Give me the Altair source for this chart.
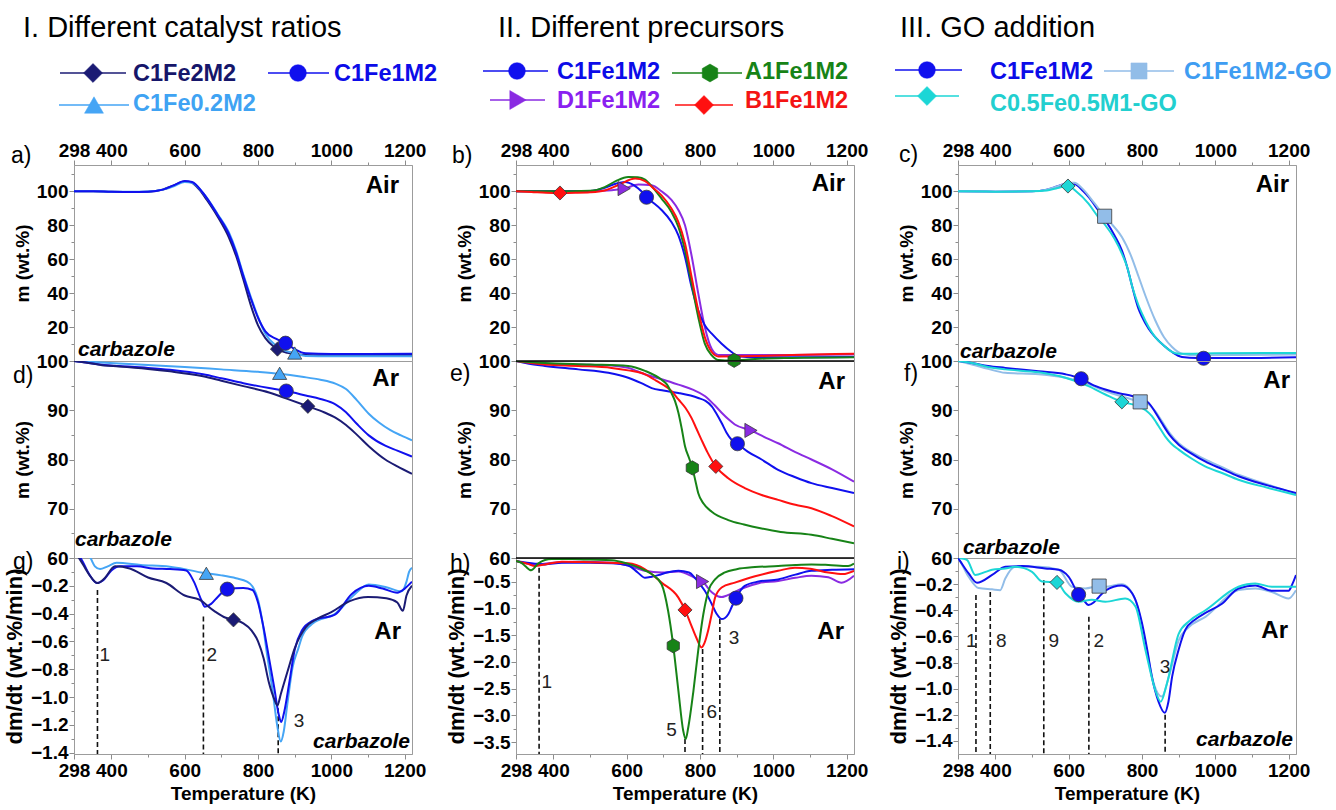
import json
import altair as alt
import pandas as pd

FONT = "Liberation Sans"
HEX = "M0,-1L0.866,-0.5L0.866,0.5L0,1L-0.866,0.5L-0.866,-0.5Z"

# ---------------- series, colours, shapes
SERIES = ["C1Fe2M2", "C1Fe1M2", "C1Fe0.2M2", "A1Fe1M2", "D1Fe1M2", "B1Fe1M2",
          "C1Fe1M2-GO", "C0.5Fe0.5M1-GO"]
LINE_COLORS = ["#1b1b74", "#1010ee", "#45a5f5", "#178317", "#8a2be2", "#ff1010",
               "#92bde8", "#1cd6d6"]
TEXT_COLORS = ["#16166a", "#0c0ce8", "#3fa3f3", "#178317", "#8a20f0", "#f41414",
               "#3f9df2", "#22cfcf"]
SHAPES = ["diamond", "circle", "triangle-up", HEX, "triangle-right", "diamond",
          "square", "diamond"]

# ---------------- axes
T_DOMAIN = [298, 1220]
X_MAJOR = [298, 400, 600, 800, 1000, 1200]
X_MINOR = [500, 700, 900, 1100]
Y_AIR_MAJOR = [20, 40, 60, 80, 100]
Y_AIR_MINOR = [10, 30, 50, 70, 90, 110]
Y_AR_MAJOR = [60, 70, 80, 90, 100]
Y_AR_MINOR = [65, 75, 85, 95]
Y_DTG_MAJOR = [-1.4, -1.2, -1.0, -0.8, -0.6, -0.4, -0.2]
Y_DTG_MINOR = [-1.3, -1.1, -0.9, -0.7, -0.5, -0.3, -0.1]
Y_DTGH_MAJOR = [-3.5, -3.0, -2.5, -2.0, -1.5, -1.0, -0.5]
Y_DTGH_MINOR = [-3.25, -2.75, -2.25, -1.75, -1.25, -0.75, -0.25]
YDOM_AIR = [0, 115.5]
YDOM_AR = [60, 100]
YDOM_G = [-1.41, 0.0]
YDOM_H = [-3.72, -0.06]
YDOM_I = [-1.5, 0.0]

# ---------------- panel a (Air, catalyst ratios)
A_C1FE2M2_T = [298, 350, 400, 450, 500, 540, 570, 600, 615, 640, 660, 690, 720, 740, 760, 780, 800, 820, 840, 853, 880, 910, 950, 1000, 1100, 1220]
A_C1FE2M2_V = [100, 100, 99.7, 99.6, 99.8, 101, 103.5, 105.8, 105.5, 101, 95, 85, 73, 62, 48, 33, 21, 13.5, 9, 7, 4.8, 3.8, 3.4, 3.4, 3.5, 3.6]
A_C1FE1M2_T = [298, 350, 400, 450, 500, 540, 570, 600, 620, 650, 690, 720, 740, 760, 780, 800, 820, 850, 875, 900, 930, 1000, 1100, 1220]
A_C1FE1M2_V = [100, 100, 99.7, 99.6, 99.8, 101, 103.5, 106, 105.5, 99, 86, 75, 64, 50, 37, 25.5, 17.5, 13, 10.5, 7, 4.5, 4.1, 4.1, 4.2]
A_C1FE02M2_T = [298, 350, 400, 450, 500, 540, 570, 600, 620, 650, 690, 720, 740, 760, 780, 800, 820, 850, 875, 900, 930, 1000, 1100, 1220]
A_C1FE02M2_V = [100, 100, 99.8, 99.7, 99.9, 101, 103, 105.5, 105, 99, 86.5, 76, 65, 51, 38, 26, 16, 9, 6, 4.7, 3, 2.8, 2.8, 2.8]
A_MARK_T = [853, 875, 900]
A_MARK_V = [7, 10.5, 4.7]

# ---------------- panel d (Ar TGA, catalyst ratios)
D_C1FE2M2_T = [298, 330, 380, 420, 500, 560, 650, 700, 760, 830, 880, 936, 980, 1011, 1040, 1070, 1102, 1147, 1180, 1220]
D_C1FE2M2_V = [100, 99.7, 99.1, 98.9, 98.4, 97.9, 96.9, 96.0, 94.9, 93.6, 92.3, 90.8, 89.6, 88.5, 87.0, 85.0, 82.7, 80.0, 78.6, 77.1]
D_C1FE1M2_T = [298, 330, 380, 420, 500, 560, 650, 700, 760, 830, 877, 930, 970, 1011, 1040, 1070, 1102, 1147, 1180, 1220]
D_C1FE1M2_V = [100, 99.7, 99.2, 99.0, 98.6, 98.2, 97.3, 96.5, 95.5, 94.5, 93.9, 93.0, 92.3, 91.2, 89.6, 87.2, 84.9, 82.8, 81.8, 80.6]
D_C1FE02M2_T = [298, 350, 420, 500, 600, 700, 800, 859, 920, 970, 1011, 1040, 1070, 1102, 1130, 1160, 1190, 1220]
D_C1FE02M2_V = [100, 99.8, 99.5, 99.2, 98.8, 98.3, 97.8, 97.4, 96.8, 96.2, 95.4, 94.3, 92.0, 89.3, 87.5, 86.0, 84.9, 83.9]
D_MARK_T = [936, 877, 859]
D_MARK_V = [90.8, 93.9, 97.5]

# ---------------- panel g (Ar DTG, catalyst ratios)
G_C1FE2M2_T = [298, 314, 330, 345, 362, 380, 410, 450, 500, 550, 600, 640, 680, 712, 733, 760, 782, 800, 815, 830, 845, 853, 862, 880, 900, 930, 960, 1000, 1050, 1100, 1150, 1180, 1195, 1205, 1220]
G_C1FE2M2_V = [0.05, -0.01, -0.08, -0.14, -0.18, -0.15, -0.06, -0.075, -0.14, -0.18, -0.27, -0.3, -0.38, -0.43, -0.445, -0.47, -0.52, -0.6, -0.72, -0.9, -1.02, -1.06, -0.98, -0.82, -0.65, -0.5, -0.44, -0.39, -0.31, -0.28, -0.29, -0.32, -0.38, -0.27, -0.2]
G_C1FE1M2_T = [298, 316, 340, 360, 378, 400, 423, 470, 513, 560, 604, 625, 645, 655, 672, 690, 716, 760, 785, 800, 815, 830, 844, 856, 863, 872, 885, 900, 920, 950, 1011, 1055, 1102, 1140, 1180, 1200, 1220]
G_C1FE1M2_V = [0.05, 0.0, -0.12, -0.18, -0.16, -0.09, -0.06, -0.06, -0.075, -0.08, -0.09, -0.17, -0.3, -0.35, -0.33, -0.28, -0.224, -0.215, -0.23, -0.32, -0.5, -0.72, -0.93, -1.12, -1.18, -1.1, -0.9, -0.66, -0.52, -0.45, -0.405, -0.26, -0.2, -0.22, -0.25, -0.22, -0.17]
G_C1FE02M2_T = [298, 330, 343, 355, 369, 390, 414, 480, 559, 600, 649, 700, 740, 770, 785, 800, 812, 825, 839, 852, 862, 870, 880, 894, 910, 921, 950, 1011, 1060, 1102, 1150, 1192, 1205, 1212, 1220]
G_C1FE02M2_V = [0.1, 0.05, 0.0, -0.06, -0.08, -0.06, -0.035, -0.05, -0.063, -0.08, -0.106, -0.125, -0.146, -0.17, -0.205, -0.3, -0.46, -0.7, -0.94, -1.2, -1.32, -1.25, -1.05, -0.79, -0.65, -0.56, -0.47, -0.4, -0.27, -0.19, -0.21, -0.24, -0.17, -0.1, -0.07]
G_MARK_T = [733, 716, 659]
G_MARK_V = [-0.445, -0.224, -0.11]
G_DASH_T = [362, 651, 855]
G_DASH_TOP = [-0.23, -0.42, -1.08]
G_LAB = ["1", "2", "3"]
G_LAB_T = [382, 674, 912]
G_LAB_V = [-0.695, -0.695, -1.175]

# ---------------- panel b (Air, precursors)
B_C1FE1M2_T = [298, 400, 500, 540, 570, 595, 620, 640, 654, 668, 695, 722, 741, 759, 777, 795, 813, 832, 859, 886, 904, 950, 1050, 1220]
B_C1FE1M2_V = [100, 100, 100.2, 102, 104.5, 105.5, 103.5, 100, 96.5, 94, 89, 81.9, 74, 61.3, 43.6, 29.9, 21, 16.1, 10.2, 5.3, 2.8, 2.2, 2.2, 2.4]
B_A1FE1M2_T = [298, 400, 500, 540, 570, 604, 630, 650, 672, 695, 722, 741, 759, 777, 795, 813, 832, 850, 886, 950, 1050, 1220]
B_A1FE1M2_V = [100, 100, 100.3, 102.5, 106, 108.5, 108.3, 106.9, 102, 95.7, 87.8, 79, 65.2, 45.6, 26, 10.2, 3.3, 0.6, 0.3, 1.2, 1.8, 2.2]
B_D1FE1M2_T = [298, 400, 500, 559, 593, 632, 668, 695, 722, 741, 759, 777, 795, 813, 832, 850, 900, 1050, 1220]
B_D1FE1M2_V = [100, 100, 100.2, 100.6, 101.6, 104, 103.5, 100, 95, 89, 80, 62, 40, 20, 7, 3.6, 3.5, 3.6, 3.8]
B_B1FE1M2_T = [298, 340, 380, 418, 460, 500, 540, 580, 623, 650, 672, 695, 722, 741, 759, 777, 795, 813, 832, 850, 922, 1050, 1220]
B_B1FE1M2_V = [100, 99.6, 99.1, 99, 99.1, 99.4, 100.5, 104, 107.5, 106, 102, 97.6, 89.8, 81.9, 69.2, 49.5, 29.9, 14.1, 5.3, 2.7, 2.8, 3.5, 4.3]
B_MARK_T = [654, 893, 593, 418]
B_MARK_V = [96.5, 0.4, 101.6, 99]

# ---------------- panel e (Ar TGA, precursors)
E_C1FE1M2_T = [298, 330, 377, 468, 550, 604, 640, 668, 700, 741, 795, 815, 832, 845, 859, 872, 886, 902, 930, 968, 1013, 1060, 1104, 1160, 1220]
E_C1FE1M2_V = [100, 99.5, 99, 98.3, 97.6, 96.6, 95.5, 94.5, 94, 93.5, 92.5, 91.9, 90.8, 89.3, 87.4, 85.5, 84, 83.2, 81.6, 80, 77.9, 76.4, 75.2, 74.2, 73.2]
E_A1FE1M2_T = [298, 377, 500, 604, 650, 695, 710, 722, 732, 741, 750, 759, 770, 779, 787, 795, 810, 832, 877, 920, 968, 1020, 1104, 1160, 1220]
E_A1FE1M2_V = [100, 99.6, 99.3, 99, 98, 96.2, 95.2, 93.5, 91.8, 89.5, 86.3, 82.7, 80.3, 78.3, 75.8, 73.2, 71, 69.4, 67.7, 66.8, 66, 65.3, 64.7, 63.9, 63]
E_D1FE1M2_T = [298, 377, 468, 559, 604, 650, 700, 741, 780, 813, 840, 859, 880, 895, 939, 980, 1013, 1060, 1104, 1160, 1220]
E_D1FE1M2_V = [100, 99.5, 99.3, 99.1, 98.6, 97.3, 96.2, 95.2, 94.2, 92.9, 91, 89.5, 88, 87.1, 85.9, 84.4, 83.3, 81.5, 80, 78, 75.5]
E_B1FE1M2_T = [298, 377, 468, 559, 604, 650, 680, 722, 741, 760, 777, 790, 804, 820, 843, 877, 922, 968, 1013, 1060, 1104, 1160, 1220]
E_B1FE1M2_V = [100, 99.3, 99, 98.6, 98.1, 97.3, 96.0, 93.9, 92.2, 90.5, 88.4, 86.3, 84, 81.5, 78.6, 76.2, 74.2, 72.8, 71.8, 70.8, 70.1, 68.5, 66.4]
E_MARK_T = [902, 779, 939, 843]
E_MARK_V = [83.2, 78.3, 85.9, 78.6]

# ---------------- panel h (Ar DTG, precursors)
H_C1FE1M2_T = [298, 350, 377, 423, 500, 559, 604, 630, 650, 668, 686, 710, 741, 770, 786, 800, 813, 832, 845, 859, 868, 877, 886, 898, 922, 960, 1013, 1060, 1104, 1160, 1220]
H_C1FE1M2_V = [-0.115, -0.165, -0.18, -0.15, -0.15, -0.16, -0.2, -0.33, -0.43, -0.41, -0.38, -0.33, -0.3, -0.33, -0.43, -0.55, -0.67, -0.92, -1.1, -1.2, -1.18, -1.11, -0.98, -0.81, -0.58, -0.5, -0.46, -0.37, -0.3, -0.28, -0.27]
H_A1FE1M2_T = [298, 315, 323, 339, 359, 395, 450, 500, 559, 600, 640, 668, 695, 713, 727, 741, 754, 761, 768, 782, 795, 809, 823, 841, 868, 900, 950, 1013, 1060, 1104, 1150, 1204, 1220]
H_A1FE1M2_V = [-0.115, -0.16, -0.21, -0.29, -0.16, -0.08, -0.08, -0.09, -0.1, -0.16, -0.26, -0.36, -0.55, -1.05, -1.7, -2.54, -3.28, -3.44, -3.22, -2.54, -1.79, -1.11, -0.67, -0.46, -0.33, -0.27, -0.23, -0.21, -0.19, -0.18, -0.19, -0.21, -0.165]
H_D1FE1M2_T = [298, 350, 400, 468, 559, 604, 650, 695, 741, 786, 807, 832, 850, 859, 870, 886, 922, 960, 1013, 1060, 1104, 1150, 1186, 1220]
H_D1FE1M2_V = [-0.115, -0.18, -0.15, -0.13, -0.15, -0.2, -0.3, -0.33, -0.31, -0.43, -0.5, -0.7, -0.78, -0.79, -0.77, -0.72, -0.61, -0.53, -0.49, -0.43, -0.39, -0.42, -0.52, -0.39]
H_B1FE1M2_T = [298, 330, 350, 377, 423, 500, 604, 650, 695, 741, 759, 775, 790, 804, 812, 822, 832, 841, 859, 895, 950, 1013, 1059, 1100, 1150, 1190, 1220]
H_B1FE1M2_V = [-0.115, -0.17, -0.21, -0.18, -0.13, -0.14, -0.16, -0.27, -0.52, -0.8, -1.03, -1.3, -1.55, -1.73, -1.65, -1.42, -1.1, -0.8, -0.61, -0.52, -0.4, -0.3, -0.24, -0.26, -0.33, -0.36, -0.3]
H_MARK_T = [898, 727, 807, 759]
H_MARK_V = [-0.81, -1.7, -0.5, -1.03]
H_DASH_T = [361, 759, 807, 854]
H_DASH_TOP = [-0.24, -3.44, -1.76, -1.2]
H_LAB = ["1", "5", "6", "3"]
H_LAB_T = [382, 722, 832, 893]
H_LAB_V = [-2.38, -3.28, -2.94, -1.56]

# ---------------- panel c (Air, GO addition)
C_C1FE1M2_T = [298, 400, 500, 540, 570, 600, 615, 640, 654, 680, 700, 725, 745, 760, 773, 790, 800, 818, 836, 860, 882, 909, 950, 1050, 1220]
C_C1FE1M2_V = [100, 99.8, 100, 101, 103, 104.8, 104.5, 100, 96.7, 89, 82.9, 74, 65.2, 55, 44, 31, 26, 19, 14.1, 9, 5.3, 2.4, 1.8, 1.8, 2.2]
C_GO_T = [298, 400, 500, 540, 570, 600, 615, 640, 670, 698, 720, 745, 770, 791, 810, 836, 860, 882, 909, 950, 1050, 1220]
C_GO_V = [100, 99.8, 100, 101, 103, 105, 105, 101, 93, 85.3, 80, 73.1, 62, 49.5, 38, 24, 14, 8.3, 4.3, 3.4, 3.5, 3.9]
C_C05_T = [298, 400, 500, 540, 570, 598, 620, 654, 680, 700, 725, 745, 760, 773, 790, 800, 818, 836, 860, 882, 900, 920, 1000, 1220]
C_C05_V = [100, 99.8, 100, 100.5, 102, 103.1, 100, 92.7, 85, 80, 72, 63.3, 55, 44, 33, 27.9, 20, 14.1, 9, 5.3, 4.3, 4.3, 4.5, 4.7]
C_MARK_T = [968, 698, 598]
C_MARK_V = [1.6, 85.3, 103.1]

# ---------------- panel f (Ar TGA, GO addition)
F_C1FE1M2_T = [298, 336, 380, 427, 518, 591, 634, 670, 700, 740, 773, 800, 818, 836, 854, 875, 900, 935, 972, 1020, 1063, 1140, 1220]
F_C1FE1M2_V = [100, 99.6, 99.0, 98.6, 97.9, 97.3, 96.4, 95.0, 94.2, 93.4, 92.9, 92.3, 91.5, 89.6, 87.4, 85.0, 83.0, 81.2, 79.6, 78.0, 76.6, 74.8, 73.2]
F_GO_T = [298, 336, 380, 427, 518, 591, 650, 700, 750, 795, 818, 836, 854, 875, 900, 935, 972, 1020, 1063, 1140, 1220]
F_GO_V = [100, 99.3, 98.4, 97.6, 97.3, 96.6, 95.4, 93.9, 92.7, 91.7, 91.2, 89.8, 87.8, 85.4, 83.3, 81.5, 80, 78.4, 76.9, 75, 73]
F_C05_T = [298, 336, 380, 427, 518, 591, 654, 700, 745, 791, 810, 827, 845, 863, 880, 900, 935, 972, 1020, 1063, 1140, 1220]
F_C05_V = [100, 99.6, 98.8, 98.3, 97.7, 96.6, 94.9, 93.2, 91.7, 90.8, 90, 88.8, 86.8, 84.7, 83.2, 82, 80.2, 78.6, 77.2, 75.9, 74.3, 72.8]
F_MARK_T = [634, 795, 745]
F_MARK_V = [96.4, 91.7, 91.7]

# ---------------- panel i (Ar DTG, GO addition)
I_C1FE1M2_T = [298, 302, 327, 350, 391, 427, 473, 536, 573, 600, 627, 640, 654, 668, 682, 700, 745, 773, 787, 800, 814, 827, 845, 862, 872, 882, 900, 918, 945, 973, 1018, 1063, 1109, 1154, 1200, 1210, 1220]
I_C1FE1M2_V = [0.0, -0.016, -0.118, -0.19, -0.13, -0.067, -0.062, -0.08, -0.09, -0.144, -0.28, -0.32, -0.36, -0.34, -0.3, -0.25, -0.21, -0.27, -0.36, -0.5, -0.7, -0.91, -1.1, -1.185, -1.1, -0.91, -0.7, -0.55, -0.47, -0.42, -0.35, -0.233, -0.21, -0.25, -0.25, -0.2, -0.13]
I_GO_T = [298, 302, 327, 354, 391, 413, 427, 454, 518, 573, 609, 645, 683, 700, 745, 782, 809, 832, 854, 873, 900, 927, 973, 1063, 1109, 1154, 1200, 1220]
I_GO_V = [0.0, -0.016, -0.144, -0.23, -0.24, -0.246, -0.157, -0.067, -0.067, -0.09, -0.22, -0.233, -0.215, -0.22, -0.2, -0.32, -0.65, -0.96, -1.06, -0.91, -0.63, -0.53, -0.45, -0.246, -0.233, -0.26, -0.31, -0.246]
I_C05_T = [298, 305, 323, 345, 373, 391, 427, 454, 500, 527, 568, 591, 627, 663, 700, 754, 782, 809, 836, 851, 868, 900, 930, 973, 1063, 1109, 1154, 1220]
I_C05_V = [0.01, 0.0, -0.016, -0.13, -0.106, -0.09, -0.08, -0.067, -0.106, -0.18, -0.187, -0.27, -0.335, -0.32, -0.335, -0.31, -0.37, -0.7, -1.01, -1.1, -0.96, -0.58, -0.48, -0.4, -0.22, -0.195, -0.22, -0.22]
I_MARK_T = [627, 683, 568]
I_MARK_V = [-0.28, -0.215, -0.187]
I_DASH_T = [347, 386, 532, 655, 863]
I_DASH_TOP = [-0.284, -0.26, -0.17, -0.45, -1.2]
I_LAB = ["1", "8", "9", "2", "3"]
I_LAB_T = [334, 416, 559, 682, 863]
I_LAB_V = [-0.634, -0.634, -0.634, -0.634, -0.833]

# ---------------- layout (pixels)
W = 338
H_TOP, H_MID, H_BOT = 196, 197, 196
COL_SPACING = 104

color_scale = alt.Scale(domain=SERIES, range=LINE_COLORS)
shape_scale = alt.Scale(domain=SERIES, range=SHAPES)
ONE = pd.DataFrame({"k": [0]})


def majtest(maj):
    return "indexof(%s, datum.value) >= 0" % json.dumps(maj)


def x_axis(mode):
    t = majtest(X_MAJOR)
    kw = dict(values=X_MAJOR + X_MINOR, format="d",
              labelExpr="(%s) ? datum.label : ''" % t,
              tickSize={"condition": {"test": t, "value": 5}, "value": 3},
              grid=False, labelFlush=False, labelOverlap=False)
    if mode == "top":
        return alt.Axis(orient="top", title=None, labelPadding=0, **kw)
    return alt.Axis(orient="bottom", title="Temperature (K)", labelPadding=2,
                    titlePadding=4, **kw)


def y_axis(maj, mnr, fmt, title, tsize):
    t = majtest(maj)
    return alt.Axis(values=sorted(maj + mnr), format=fmt,
                    labelExpr="(%s) ? datum.label : ''" % t,
                    tickSize={"condition": {"test": t, "value": 5}, "value": 3},
                    title=title, titleFontSize=tsize, grid=False, labelPadding=1,
                    titlePadding=4, labelOverlap=False, labelFlush=False)


def txt(s, x, y, size, color="black", weight="normal", style="normal",
        align="left", baseline="alphabetic"):
    return alt.Chart(pd.DataFrame({"t": [s]})).mark_text(
        align=align, baseline=baseline, fontSize=size, fontWeight=weight,
        fontStyle=style, color=color, font=FONT
    ).encode(x=alt.value(x), y=alt.value(y), text="t:N")


def hrule(x1, x2, y, color, width=1.5):
    return alt.Chart(ONE).mark_rule(color=color, strokeWidth=width).encode(
        x=alt.value(x1), x2=alt.value(x2), y=alt.value(y))


def sym(x, y, shape, color, size):
    return alt.Chart(ONE).mark_point(shape=shape, filled=True, fill=color, stroke=color,
                                     strokeWidth=0.5, size=size, opacity=1).encode(
        x=alt.value(x), y=alt.value(y))


def panel(lines, marks, ydom, ymaj, ymnr, yfmt, ytitle, xmode, height,
          dashes=None, labels=None, extra=()):
    ldf = pd.DataFrame([{"T": t, "v": v, "s": n}
                        for n, T, V in lines for t, v in zip(T, V)])
    mdf = pd.DataFrame([{"T": t, "v": v, "s": n} for n, T, V in marks
                        for t, v in zip(T, V)])
    xax = None if xmode == "mid" else x_axis(xmode)
    X = alt.X("T:Q", scale=alt.Scale(domain=T_DOMAIN, nice=False, zero=False), axis=xax)
    tsize = 22 if ydom[1] <= 0 else 19
    Y = alt.Y("v:Q", scale=alt.Scale(domain=ydom, nice=False, zero=False),
              axis=y_axis(ymaj, ymnr, yfmt, ytitle, tsize))
    C = alt.Color("s:N", scale=color_scale, legend=None)
    layers = []
    if dashes is not None:
        dT, dTop = dashes
        ddf = pd.DataFrame({"T": dT, "v": dTop, "v2": [ydom[0]] * len(dT)})
        layers.append(alt.Chart(ddf).mark_rule(color="#111111", strokeWidth=1.6,
                                               strokeDash=[5, 3]).encode(
            x=X, y=Y, y2="v2:Q"))
    layers.append(alt.Chart(ldf).mark_line(strokeWidth=2, interpolate="monotone",
                                           clip=True).encode(x=X, y=Y, color=C))
    layers.append(alt.Chart(mdf).mark_point(filled=True, size=200, opacity=1,
                                            stroke="#3a3a3a", strokeWidth=0.8).encode(
        x=X, y=Y, color=C, shape=alt.Shape("s:N", scale=shape_scale, legend=None)))
    if labels is not None:
        lt, lT, lV = labels
        tdf = pd.DataFrame({"T": lT, "v": lV, "lab": lt})
        layers.append(alt.Chart(tdf).mark_text(fontSize=19, font=FONT, color="#222222",
                                               align="center", baseline="middle").encode(
            x=X, y=Y, text="lab:N"))
    layers.extend(extra)
    return alt.layer(*layers).properties(width=W, height=height)


def header(title, title_x, entries):
    out = [txt(title, title_x, -128, 29)]
    for name, lx1, lx2, ly, mx, tx, ty, msize in entries:
        i = SERIES.index(name)
        out.append(hrule(lx1, lx2, ly, LINE_COLORS[i]))
        out.append(sym(mx, ly, SHAPES[i], LINE_COLORS[i], msize))
        out.append(txt(name, tx, ty, 23.5, color=TEXT_COLORS[i], weight="bold"))
    return out


def notes(letter, lx, ly, cond, cx, cy, carb=None):
    out = [txt(letter, lx, ly, 23), txt(cond, cx, cy, 24, weight="bold", align="right")]
    if carb is not None:
        x, y, al = carb
        out.append(txt("carbazole", x, y, 21, weight="bold", style="italic", align=al))
    return out


# anchor that fixes the page origin (white, invisible)
anchor = alt.Chart(ONE).mark_rule(color="white", strokeWidth=1).encode(
    x=alt.value(-72.5), y=alt.value(-164), y2=alt.value(-161))

# ---------------- column I
pa = panel([("C1Fe2M2", A_C1FE2M2_T, A_C1FE2M2_V), ("C1Fe0.2M2", A_C1FE02M2_T, A_C1FE02M2_V),
            ("C1Fe1M2", A_C1FE1M2_T, A_C1FE1M2_V)],
           [(n, [t], [v]) for n, t, v in zip(["C1Fe2M2", "C1Fe1M2", "C1Fe0.2M2"], A_MARK_T, A_MARK_V)],
           YDOM_AIR, Y_AIR_MAJOR, Y_AIR_MINOR, "d", "m (wt.%)", "top", H_TOP,
           extra=[anchor]
           + header("I. Different catalyst ratios", -51, [
               ("C1Fe2M2", -14, 52, -92, 19, 59, -84, 360),
               ("C1Fe1M2", 194, 255, -92, 224, 260, -84, 280),
               ("C1Fe0.2M2", -15, 55, -60, 20, 59, -54, 360)])
           + notes("a)", -63, -2, "Air", 325, 28, (4, 191, "left")))

pd_ = panel([("C1Fe0.2M2", D_C1FE02M2_T, D_C1FE02M2_V), ("C1Fe1M2", D_C1FE1M2_T, D_C1FE1M2_V),
             ("C1Fe2M2", D_C1FE2M2_T, D_C1FE2M2_V)],
            [(n, [t], [v]) for n, t, v in zip(["C1Fe2M2", "C1Fe1M2", "C1Fe0.2M2"], D_MARK_T, D_MARK_V)],
            YDOM_AR, Y_AR_MAJOR, Y_AR_MINOR, "d", "m (wt.%)", "mid", H_MID,
            extra=notes("d)", -61, 22, "Ar", 325, 25, (1, 185, "left")))

pg = panel([("C1Fe0.2M2", G_C1FE02M2_T, G_C1FE02M2_V), ("C1Fe1M2", G_C1FE1M2_T, G_C1FE1M2_V),
            ("C1Fe2M2", G_C1FE2M2_T, G_C1FE2M2_V)],
           [(n, [t], [v]) for n, t, v in zip(["C1Fe2M2", "C1Fe1M2", "C1Fe0.2M2"], G_MARK_T, G_MARK_V)],
           YDOM_G, Y_DTG_MAJOR, Y_DTG_MINOR, ".1f", "dm/dt (wt.%/min)", "bot", H_BOT,
           dashes=(G_DASH_T, G_DASH_TOP), labels=(G_LAB, G_LAB_T, G_LAB_V),
           extra=notes("g)", -61, 11, "Ar", 327, 81, (336, 190, "right")))

# ---------------- column II
black_top = hrule(0, W, 0, "black", 1.6)

pb = panel([("D1Fe1M2", B_D1FE1M2_T, B_D1FE1M2_V), ("C1Fe1M2", B_C1FE1M2_T, B_C1FE1M2_V),
            ("A1Fe1M2", B_A1FE1M2_T, B_A1FE1M2_V), ("B1Fe1M2", B_B1FE1M2_T, B_B1FE1M2_V)],
           [(n, [t], [v]) for n, t, v in zip(["C1Fe1M2", "A1Fe1M2", "D1Fe1M2", "B1Fe1M2"], B_MARK_T, B_MARK_V)],
           YDOM_AIR, Y_AIR_MAJOR, Y_AIR_MINOR, "d", "m (wt.%)", "top", H_TOP,
           extra=header("II. Different precursors", -18, [
               ("C1Fe1M2", -33, 32, -94, 1, 41, -86, 280),
               ("A1Fe1M2", 156, 226, -92, 194, 229, -86, 320),
               ("D1Fe1M2", -26, 29, -65, 2, 41, -57, 360),
               ("B1Fe1M2", 159, 217, -60, 188, 229, -57, 360)])
           + notes("b)", -64, -2, "Air", 329, 26))

pe = panel([("D1Fe1M2", E_D1FE1M2_T, E_D1FE1M2_V), ("C1Fe1M2", E_C1FE1M2_T, E_C1FE1M2_V),
            ("B1Fe1M2", E_B1FE1M2_T, E_B1FE1M2_V), ("A1Fe1M2", E_A1FE1M2_T, E_A1FE1M2_V)],
           [(n, [t], [v]) for n, t, v in zip(["C1Fe1M2", "A1Fe1M2", "D1Fe1M2", "B1Fe1M2"], E_MARK_T, E_MARK_V)],
           YDOM_AR, Y_AR_MAJOR, Y_AR_MINOR, "d", "m (wt.%)", "mid", H_MID,
           extra=[black_top] + notes("e)", -66, 20, "Ar", 329, 28))

ph = panel([("D1Fe1M2", H_D1FE1M2_T, H_D1FE1M2_V), ("C1Fe1M2", H_C1FE1M2_T, H_C1FE1M2_V),
            ("B1Fe1M2", H_B1FE1M2_T, H_B1FE1M2_V), ("A1Fe1M2", H_A1FE1M2_T, H_A1FE1M2_V)],
           [(n, [t], [v]) for n, t, v in zip(["C1Fe1M2", "A1Fe1M2", "D1Fe1M2", "B1Fe1M2"], H_MARK_T, H_MARK_V)],
           YDOM_H, Y_DTGH_MAJOR, Y_DTGH_MINOR, ".1f", "dm/dt (wt.%/min)", "bot", H_BOT,
           dashes=(H_DASH_T, H_DASH_TOP), labels=(H_LAB, H_LAB_T, H_LAB_V),
           extra=[black_top] + notes("h)", -66, 13, "Ar", 328, 81))

# ---------------- column III
pc = panel([("C1Fe1M2", C_C1FE1M2_T, C_C1FE1M2_V), ("C1Fe1M2-GO", C_GO_T, C_GO_V),
            ("C0.5Fe0.5M1-GO", C_C05_T, C_C05_V)],
           [(n, [t], [v]) for n, t, v in zip(["C1Fe1M2", "C1Fe1M2-GO", "C0.5Fe0.5M1-GO"], C_MARK_T, C_MARK_V)],
           YDOM_AIR, Y_AIR_MAJOR, Y_AIR_MINOR, "d", "m (wt.%)", "top", H_TOP,
           extra=header("III. GO addition", -58, [
               ("C1Fe1M2", -63, 4, -95, -31, 32, -86, 280),
               ("C1Fe1M2-GO", 146, 216, -94, 181, 226, -86, 260),
               ("C0.5Fe0.5M1-GO", -63, 1, -69, -31, 32, -54, 360)])
           + notes("c)", -59, -3, "Air", 331, 27, (2, 193, "left")))

pf = panel([("C1Fe1M2-GO", F_GO_T, F_GO_V), ("C1Fe1M2", F_C1FE1M2_T, F_C1FE1M2_V),
            ("C0.5Fe0.5M1-GO", F_C05_T, F_C05_V)],
           [(n, [t], [v]) for n, t, v in zip(["C1Fe1M2", "C1Fe1M2-GO", "C0.5Fe0.5M1-GO"], F_MARK_T, F_MARK_V)],
           YDOM_AR, Y_AR_MAJOR, Y_AR_MINOR, "d", "m (wt.%)", "mid", H_MID,
           extra=notes("f)", -54, 20, "Ar", 332, 27, (5, 193, "left")))

pi = panel([("C1Fe1M2-GO", I_GO_T, I_GO_V), ("C1Fe1M2", I_C1FE1M2_T, I_C1FE1M2_V),
            ("C0.5Fe0.5M1-GO", I_C05_T, I_C05_V)],
           [(n, [t], [v]) for n, t, v in zip(["C1Fe1M2", "C1Fe1M2-GO", "C0.5Fe0.5M1-GO"], I_MARK_T, I_MARK_V)],
           YDOM_I, Y_DTG_MAJOR, Y_DTG_MINOR, ".1f", "dm/dt (wt.%/min)", "bot", H_BOT,
           dashes=(I_DASH_T, I_DASH_TOP), labels=(I_LAB, I_LAB_T, I_LAB_V),
           extra=notes("i)", -61, 11, "Ar", 330, 80, (335, 188, "right")))

chart = alt.concat(pa, pb, pc, pd_, pe, pf, pg, ph, pi, columns=3,
                   spacing=alt.RowColnumber(row=0, column=COL_SPACING),
                   bounds="flush").properties(padding=0, background="white")

chart = chart.configure(font=FONT).configure_view(
    stroke="#9c9c9c", strokeWidth=1
).configure_axis(
    labelFont=FONT, labelFontSize=19, labelFontWeight="bold", labelColor="black",
    titleFont=FONT, titleFontSize=19, titleFontWeight="bold", titleColor="black",
    domainColor="#9c9c9c", tickColor="#8c8c8c", tickWidth=1
)

chart.save("out.html", embed_options={"renderer": "svg", "actions": False})
